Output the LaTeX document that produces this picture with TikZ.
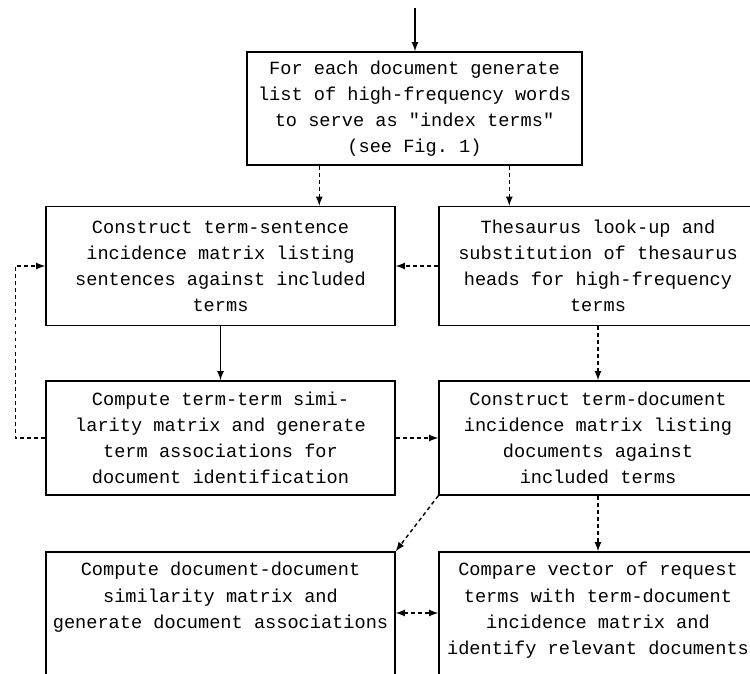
\documentclass[tikz,border=0pt]{standalone}
\usepackage{fontspec}
\setmonofont{Liberation Mono}
\tikzset{
  box/.style={draw, thick, align=center, font=\ttfamily\fontsize{10.6}{14.8}\selectfont},
  dashline/.style={thick, dash pattern=on 2.2pt off 1.8pt},
  boxtext/.style={align=center, anchor=north, font=\ttfamily\fontsize{10.6}{14.8}\selectfont}
}

\begin{document}
\begin{tikzpicture}[>=latex]
        \useasboundingbox (0,0) rectangle (15,13.48);
        \clip (0,0) rectangle (15,13.48);
        % boxes
        \node[box, minimum width=6.70cm, minimum height=2.26cm] (words) at (8.29,11.31) {For each document generate\\list of high-frequency words\\to serve as "index terms"\\(see Fig. 1)};
        \node[box, minimum width=6.98cm, minimum height=2.38cm] (termsent) at (4.41,8.16) {Construct term-sentence\\incidence matrix listing\\sentences against included\\terms};
        \node[box, minimum width=6.36cm, minimum height=2.38cm] (thes) at (11.96,8.16) {Thesaurus look-up and\\substitution of thesaurus\\heads for high-frequency\\terms};
        \node[box, minimum width=6.98cm, minimum height=2.28cm] (termsim) at (4.41,4.72) {Compute term-term simi-\\larity matrix and generate\\term associations for\\document identification};
        \node[box, minimum width=6.36cm, minimum height=2.28cm] (termdoc) at (11.96,4.72) {Construct term-document\\incidence matrix listing\\documents against\\included terms};
        \node[box, minimum width=6.98cm, minimum height=2.76cm] (docsim) at (4.41,1.06) {};
        \node[box, minimum width=6.36cm, minimum height=2.76cm] (compare) at (11.96,1.06) {};
        \node[boxtext] (docsimtext) at ([yshift=-0.1cm]docsim.north) {Compute document-document\\similarity matrix and\\generate document associations};
        \node[boxtext] (comparetext) at ([yshift=-0.1cm]compare.north) {Compare vector of request\\terms with term-document\\incidence matrix and\\identify relevant documents};
        % connectors
        \coordinate (in) at (8.30,13.32);
        \draw[thick,->] (in) -- (in |- words.north);
        \draw[dashline,->] ([xshift=1.46cm]words.south west) -- ([xshift=1.46cm]words.south west |- termsent.north);
        \draw[dashline,->] ([xshift=1.42cm]thes.north west |- words.south) -- ([xshift=1.42cm]thes.north west);
        \draw[dashline,->] (thes.west) -- (termsent.east);
        \draw[thick,->] (termsent.south) -- (termsim.north);
        \draw[dashline,->] (thes.south) -- (termdoc.north);
        \draw[dashline,->] (termsim.east) -- (termdoc.west);
        \draw[dashline,->] (termsim.west) -- ++(-0.6,0) |- (termsent.west);
        \draw[dashline,->] (termdoc.south west) -- (docsim.north east);
        \draw[dashline,->] (termdoc.south) -- (compare.north);
        \draw[dashline,<->] ([yshift=0.16cm]docsim.east) -- ([yshift=0.16cm]compare.west);
      \end{tikzpicture}
\end{document}
